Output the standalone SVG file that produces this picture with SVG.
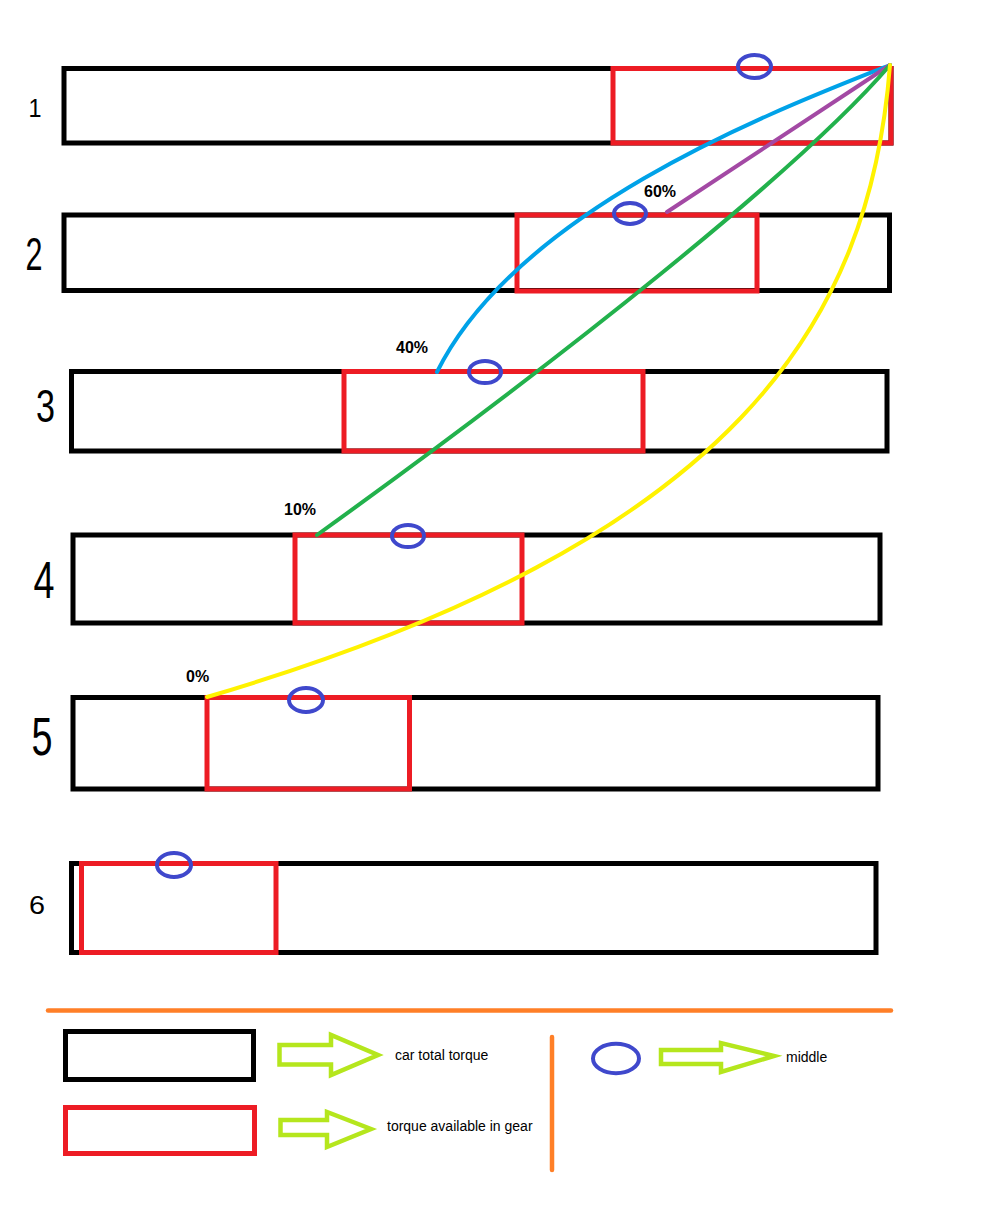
<svg xmlns="http://www.w3.org/2000/svg" width="990" height="1219" viewBox="0 0 990 1219">
<style>
.blk{fill:none;stroke:#000;stroke-width:5}
.red{fill:none;stroke:#ed1c24;stroke-width:5}
.mid{fill:none;stroke:#3f48cc;stroke-width:4}
.num{font-family:"Liberation Sans",Arial,sans-serif;fill:#000;text-anchor:middle}
.pct{font-family:"Liberation Sans",Arial,sans-serif;font-size:16px;font-weight:bold;fill:#000}
.lbl{font-family:"Liberation Sans",Arial,sans-serif;font-size:14px;fill:#000}
.arr{fill:none;stroke:#b5e61d;stroke-width:4.5;stroke-linejoin:miter}
.cv{fill:none;stroke-width:4;stroke-linecap:round}
</style>
<rect width="990" height="1219" fill="#fff"/>
<g id="gear1">
<rect class="blk" x="64" y="68.5" width="827" height="74.5"/>
<rect class="red" x="613" y="68.5" width="278" height="74.5"/>
<text class="num" x="35" y="117" font-size="25" textLength="13" lengthAdjust="spacingAndGlyphs">1</text>
</g>
<g id="gear2">
<rect class="blk" x="64" y="215" width="825.5" height="75.5"/>
<rect class="red" x="517" y="215" width="240" height="76"/>
<text class="num" x="34" y="270" font-size="46" textLength="17" lengthAdjust="spacingAndGlyphs">2</text>
</g>
<g id="gear3">
<rect class="blk" x="71.5" y="371.5" width="815.5" height="79.5"/>
<rect class="red" x="344" y="371.5" width="299" height="79.5"/>
<text class="num" x="45.5" y="422" font-size="46" textLength="19" lengthAdjust="spacingAndGlyphs">3</text>
</g>
<g id="gear4">
<rect class="blk" x="73" y="535" width="807" height="88"/>
<rect class="red" x="295" y="535" width="227" height="88"/>
<text class="num" x="44" y="598" font-size="52" textLength="21" lengthAdjust="spacingAndGlyphs">4</text>
</g>
<g id="gear5">
<rect class="blk" x="73" y="697.5" width="805" height="91.5"/>
<rect class="red" x="207" y="697.5" width="202.5" height="91.5"/>
<text class="num" x="42" y="755" font-size="54" textLength="21" lengthAdjust="spacingAndGlyphs">5</text>
</g>
<g id="gear6">
<rect class="blk" x="71.5" y="863.5" width="804.5" height="89"/>
<rect class="red" x="81.5" y="863.5" width="194.5" height="89"/>
<text class="num" x="37" y="914" font-size="25" textLength="16" lengthAdjust="spacingAndGlyphs">6</text>
</g>
<g id="connectors">
<path class="cv" stroke="#00a2e8" d="M890 65 C790 105 520 205 437 372"/>
<path class="cv" stroke="#a349a4" d="M890 65 L667 212"/>
<path class="cv" stroke="#22b14c" d="M890 65 C800 170 560 360 317 535"/>
<path class="cv" stroke="#fff200" d="M890 65 C870 320 740 540 207 697"/>
</g>
<g id="middles">
<ellipse class="mid" cx="754.5" cy="66.5" rx="16.5" ry="11.5"/>
<ellipse class="mid" cx="630" cy="213.5" rx="16" ry="10.5"/>
<ellipse class="mid" cx="485" cy="372" rx="16" ry="11"/>
<ellipse class="mid" cx="408" cy="536" rx="16" ry="11"/>
<ellipse class="mid" cx="306" cy="700" rx="17" ry="12"/>
<ellipse class="mid" cx="174" cy="865" rx="17" ry="12"/>
</g>
<g id="labels">
<text class="pct" x="644" y="197">60%</text>
<text class="pct" x="396" y="353">40%</text>
<text class="pct" x="284" y="515">10%</text>
<text class="pct" x="186" y="682">0%</text>
</g>
<g id="divider">
<line x1="48" y1="1010.5" x2="891" y2="1010.5" stroke="#ff7f27" stroke-width="4.5" stroke-linecap="round"/>
<line x1="552" y1="1037" x2="552" y2="1170" stroke="#ff7f27" stroke-width="4.5" stroke-linecap="round"/>
</g>
<g id="legend-total">
<rect class="blk" x="65.5" y="1031.5" width="188" height="48"/>
<polygon class="arr" points="279.5,1045 331,1045 331,1035 378,1055 331,1075 331,1064.5 279.5,1064.5"/>
<text class="lbl" x="395" y="1060">car total torque</text>
</g>
<g id="legend-gear">
<rect class="red" x="65.5" y="1107.5" width="189" height="46"/>
<polygon class="arr" points="280.5,1120 327,1120 327,1112 371,1129 327,1147 327,1135 280.5,1135"/>
<text class="lbl" x="387" y="1131">torque available in gear</text>
</g>
<g id="legend-middle">
<ellipse class="mid" cx="616" cy="1058.5" rx="23" ry="14.7"/>
<polygon class="arr" points="661,1050 721,1050 721,1043 774,1056 721,1072 721,1064 661,1064"/>
<text class="lbl" x="786" y="1062">middle</text>
</g>
</svg>
